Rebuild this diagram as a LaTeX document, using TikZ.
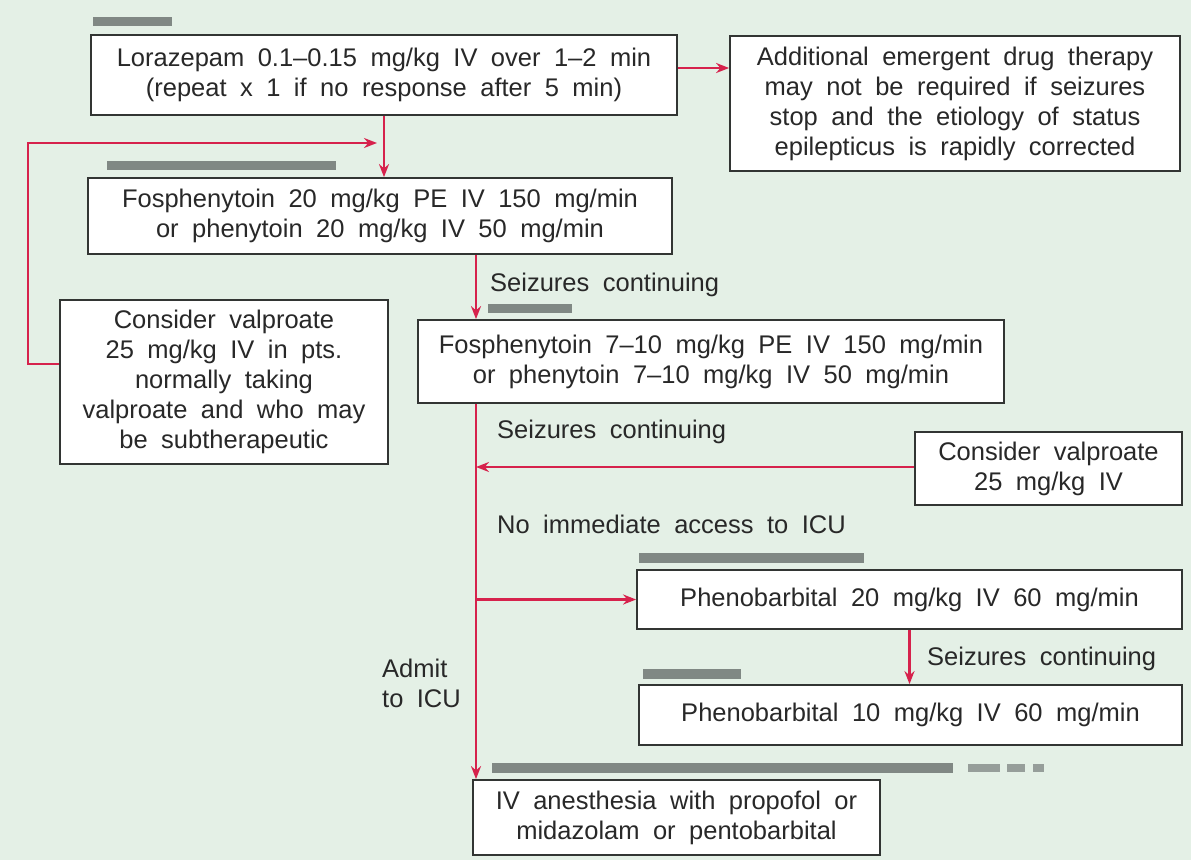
\documentclass[tikz,border=0pt]{standalone}
\usepackage{fontspec}
\setmainfont[WordSpace=1.9]{Liberation Sans}
\usetikzlibrary{arrows.meta}
\definecolor{bgmint}{RGB}{228,240,230}
\definecolor{flowred}{RGB}{214,34,76}
\definecolor{boxline}{RGB}{50,53,51}
\definecolor{barbase}{RGB}{128,136,132}
\definecolor{barlight}{RGB}{150,158,154}
\definecolor{inktext}{RGB}{40,40,40}

\begin{document}
\begin{tikzpicture}[x=1pt,y=-1pt,
  stepbox/.style={draw=boxline, line width=1.8pt, fill=white, inner sep=0pt,
    align=center, text=inktext, font=\fontsize{25.5}{30}\selectfont},
  lbl/.style={anchor=west, inner sep=0pt, align=left, text=inktext,
    font=\fontsize{25.5}{30}\selectfont},
  flow/.style={draw=flowred, line width=2.8pt,
    -{Stealth[length=13pt,width=10pt]}},
  tbar/.style={fill=barbase, draw=none}]

% canvas
\fill[bgmint] (0,0) rectangle (1191,860);
\useasboundingbox (0,0) rectangle (1191,860);

% timing bars above the steps
\fill[tbar] (93,17) rectangle (172,26);
\fill[tbar] (107,161) rectangle (336,170);
\fill[tbar] (488,304) rectangle (572,313);
\fill[tbar] (639,553) rectangle (864,563);
\fill[tbar] (643,669) rectangle (741,679);
\fill[tbar] (492,763) rectangle (953,773);
\fill[barlight] (968,764) rectangle (1000,772);
\fill[barlight] (1007,764) rectangle (1025,772);
\fill[barlight] (1033,764) rectangle (1044,772);

% steps
\node[stepbox, minimum width=586pt, minimum height=80pt] (lor) at (384,75)
  {Lorazepam 0.1–0.15 mg/kg IV over 1–2 min\\(repeat x 1 if no response after 5 min)};
\node[stepbox, minimum width=450pt, minimum height=135pt] (add) at (955,103.5)
  {Additional emergent drug therapy\\may not be required if seizures\\stop and the etiology of status\\epilepticus is rapidly corrected};
\node[stepbox, minimum width=584pt, minimum height=76pt] (fos1) at (380,216)
  {Fosphenytoin 20 mg/kg PE IV 150 mg/min\\or phenytoin 20 mg/kg IV 50 mg/min};
\node[stepbox, minimum width=328pt, minimum height=164pt] (vpa1) at (224,382)
  {Consider valproate\\25 mg/kg IV in pts.\\normally taking\\valproate and who may\\be subtherapeutic};
\node[stepbox, minimum width=586pt, minimum height=83pt] (fos2) at (711,361.5)
  {Fosphenytoin 7–10 mg/kg PE IV 150 mg/min\\or phenytoin 7–10 mg/kg IV 50 mg/min};
\node[stepbox, minimum width=267pt, minimum height=73pt] (vpa2) at (1048.5,468.5)
  {Consider valproate\\25 mg/kg IV};
\node[stepbox, minimum width=545pt, minimum height=59pt] (pb1) at (909.5,599.5)
  {Phenobarbital 20 mg/kg IV 60 mg/min};
\node[stepbox, minimum width=543pt, minimum height=60pt] (pb2) at (910.5,715)
  {Phenobarbital 10 mg/kg IV 60 mg/min};
\node[stepbox, minimum width=407pt, minimum height=75pt] (ivan) at (676.5,817.5)
  {IV anesthesia with propofol or\\midazolam or pentobarbital};

% labels
\node[lbl] (sc1) at (490,285) {Seizures continuing};
\node[lbl] (sc2) at (497,432) {Seizures continuing};
\node[lbl] (noicu) at (497,524) {No immediate access to ICU};
\node[lbl] (sc3) at (927,659) {Seizures continuing};
\node[lbl] (icu) at (382,683) {Admit\\to ICU};

% routing points
\coordinate (r1) at (0,68);
\coordinate (trunk) at (476,0);
\coordinate (r2) at (0,467);
\coordinate (fbLow) at (0,364);
\coordinate (fbCorner) at (28,143);
\coordinate (fbEnd) at (377,143);

% connectors
\draw[flow] (lor.east |- r1) -- (add.west |- r1);
\draw[flow] (lor.south) -- (lor.south |- fos1.north);
\draw[flow] (vpa1.west |- fbLow) -| (fbCorner) -- (fbEnd);
\draw[flow] (trunk |- fos1.south) -- (trunk |- fos2.north);
\draw[flow] (trunk |- fos2.south) -- (trunk |- ivan.north);
\draw[flow] (vpa2.west |- r2) -- (trunk |- r2);
\draw[flow] (trunk |- pb1.west) -- (pb1.west);
\draw[flow] (pb1.south) -- (pb1.south |- pb2.north);
\end{tikzpicture}
\end{document}
